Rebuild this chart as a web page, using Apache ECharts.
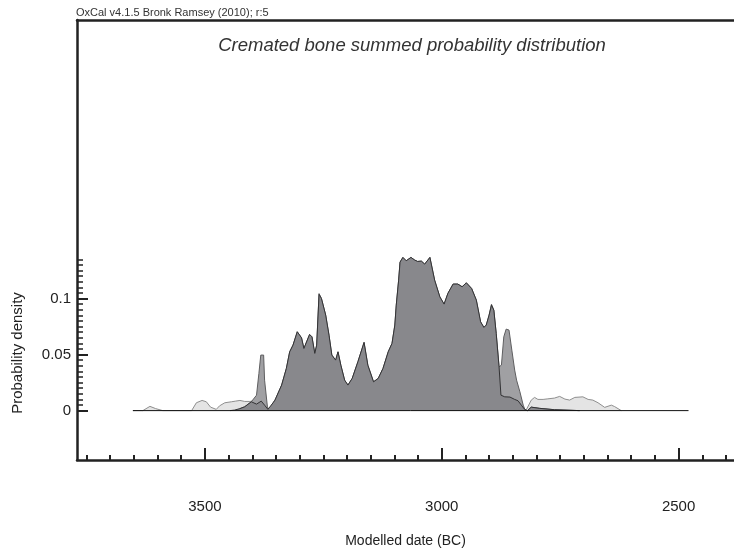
<!DOCTYPE html>
<html>
<head>
<meta charset="utf-8">
<script src="https://cdn.jsdelivr.net/npm/echarts@6/dist/echarts.min.js"></script>
<style>
  html, body { margin: 0; padding: 0; background: #ffffff; }
  #chart { width: 734px; height: 554px; }
</style>
</head>
<body>
<div id="chart"></div>
<script>
// Axis ticks (years BC, axis runs right-to-left in time)
const majorYears = [3500, 3000, 2500];
const minorYears = [3750, 3700, 3650, 3600, 3550, 3500, 3450, 3400, 3350, 3300,
  3250, 3200, 3150, 3100, 3050, 3000, 2950, 2900, 2850, 2800,
  2750, 2700, 2650, 2600, 2550, 2500, 2450, 2400];
const majorDensity = [0, 0.05, 0.1];
const minorDensity = [0, 0.005, 0.01, 0.015, 0.02, 0.025, 0.03, 0.035, 0.04, 0.045,
  0.05, 0.055, 0.06, 0.065, 0.07, 0.075, 0.08, 0.085, 0.09, 0.095,
  0.1, 0.105, 0.11, 0.115, 0.12, 0.125, 0.13, 0.135];

// Unmodelled (prior) sum, outer tails
const priorEarlyYears = [3652, 3631, 3616, 3604, 3589, 3528, 3518, 3506, 3497, 3488,
  3476, 3469, 3458, 3444, 3435, 3426, 3416, 3405, 3395, 3384, 3371, 3365];
const priorEarlyDensity = [0, 0, 0.0038, 0.0018, 0, 0, 0.0070, 0.0091, 0.0079, 0.0031,
  0.0011, 0.0043, 0.0070, 0.0079, 0.0085, 0.0091, 0.0082, 0.0082, 0.0089, 0.0085, 0.0060, 0];
const priorLateYears = [2833, 2821, 2811, 2804, 2797, 2786, 2776, 2762, 2751, 2740,
  2730, 2719, 2702, 2691, 2681, 2670, 2656, 2642, 2635, 2621];
const priorLateDensity = [0, 0.0011, 0.0094, 0.0118, 0.0100, 0.0100, 0.0105, 0.0112, 0.0127, 0.0103,
  0.0094, 0.0118, 0.0123, 0.0100, 0.0094, 0.0070, 0.0029, 0.0049, 0.0036, 0];

// Unmodelled sum within the main range
const midYears = [3426, 3416, 3402, 3391, 3386, 3382, 3376, 3374, 3368, 3365,
  3356, 3352, 3338, 3328, 3321, 3314, 3305, 3296, 3291, 3279,
  3274, 3268, 3264, 3259, 3254, 3245, 3238, 3232, 3224, 3219,
  3213, 3205, 3198, 3189, 3177, 3164, 3156, 3144, 3134, 3124,
  3113, 3105, 3099, 3096, 3091, 3088, 3082, 3075, 3065, 3057,
  3051, 3043, 3036, 3025, 3015, 3004, 2995, 2987, 2976, 2966,
  2957, 2948, 2937, 2927, 2918, 2911, 2906, 2900, 2895, 2890,
  2885, 2879, 2874, 2869, 2864, 2858, 2852, 2846, 2842, 2835,
  2828, 2824, 2819, 2811, 2793, 2762, 2709];
const midDensity = [0.0018, 0.0034, 0.0079, 0.0138, 0.0332, 0.0496, 0.0496, 0.0272, 0.0034, 0.0005,
  0.0070, 0.0094, 0.0228, 0.0377, 0.0525, 0.0585, 0.0704, 0.0650, 0.0555, 0.0680,
  0.0659, 0.0511, 0.0585, 0.1045, 0.1002, 0.0853, 0.0674, 0.0496, 0.0451, 0.0525,
  0.0406, 0.0272, 0.0228, 0.0288, 0.0436, 0.0609, 0.0406, 0.0257, 0.0288, 0.0377,
  0.0525, 0.0600, 0.0764, 0.0942, 0.1165, 0.1326, 0.1368, 0.1338, 0.1368, 0.1344,
  0.1332, 0.1335, 0.1308, 0.1368, 0.1165, 0.1016, 0.0951, 0.1047, 0.1130, 0.1130,
  0.1106, 0.1141, 0.1091, 0.0987, 0.0793, 0.0743, 0.0764, 0.0853, 0.0950, 0.0897,
  0.0689, 0.0391, 0.0406, 0.0659, 0.0728, 0.0719, 0.0540, 0.0362, 0.0272, 0.0168,
  0.0049, 0.0005, 0, 0.0031, 0.0020, 0.0008, 0];

// Modelled (posterior) sum
const modelYears = [3447, 3437, 3426, 3416, 3402, 3391, 3381, 3374, 3367, 3356,
  3352, 3338, 3328, 3321, 3314, 3305, 3296, 3291, 3279, 3274,
  3268, 3264, 3259, 3254, 3245, 3238, 3232, 3224, 3219, 3213,
  3205, 3198, 3189, 3177, 3164, 3156, 3144, 3134, 3124, 3113,
  3105, 3099, 3096, 3091, 3088, 3082, 3075, 3065, 3057, 3051,
  3043, 3036, 3025, 3015, 3004, 2995, 2987, 2976, 2966, 2957,
  2948, 2937, 2927, 2918, 2911, 2906, 2900, 2895, 2890, 2885,
  2879, 2875, 2867, 2856, 2846, 2839, 2832, 2825, 2819, 2811,
  2793, 2762, 2709];
const modelDensity = [0, 0.0005, 0.0018, 0.0034, 0.0079, 0.0058, 0.0085, 0.0049, 0.0011, 0.0070,
  0.0094, 0.0228, 0.0377, 0.0525, 0.0585, 0.0704, 0.0650, 0.0555, 0.0680, 0.0659,
  0.0511, 0.0585, 0.1038, 0.1002, 0.0853, 0.0674, 0.0496, 0.0451, 0.0525, 0.0406,
  0.0272, 0.0228, 0.0288, 0.0436, 0.0609, 0.0406, 0.0257, 0.0288, 0.0377, 0.0525,
  0.0600, 0.0764, 0.0942, 0.1165, 0.1326, 0.1368, 0.1338, 0.1368, 0.1344, 0.1332,
  0.1335, 0.1308, 0.1368, 0.1165, 0.1016, 0.0951, 0.1047, 0.1130, 0.1130, 0.1106,
  0.1141, 0.1091, 0.0987, 0.0793, 0.0743, 0.0764, 0.0853, 0.0942, 0.0897, 0.0689,
  0.0391, 0.0138, 0.0123, 0.0121, 0.0100, 0.0088, 0.0049, 0.0011, 0, 0.0031,
  0.0020, 0.0008, 0];

// Zero line under the distributions
const baselineYears = [3652, 2479];
const baselineDensity = [0, 0];

const zip = (xs, ys) => xs.map((x, i) => [x, ys[i]]);

const FONT = '"Liberation Sans", Arial, Helvetica, sans-serif';
const INK = '#222222';

const chart = echarts.init(document.getElementById('chart'), null, { renderer: 'canvas' });

const xBase = { type: 'value', inverse: true, min: 2383, max: 3770, splitLine: { show: false } };
const yBase = { type: 'value', min: -0.0441, max: 0.3488, splitLine: { show: false } };

chart.setOption({
  animation: false,
  backgroundColor: '#ffffff',
  textStyle: { fontFamily: FONT },
  title: [
    {
      text: 'OxCal v4.1.5 Bronk Ramsey (2010); r:5',
      left: 76, top: 7, padding: 0,
      textStyle: { fontFamily: FONT, fontSize: 11, fontWeight: 'normal', color: '#333333' }
    },
    {
      text: 'Cremated bone summed probability distribution',
      left: 412, top: 36, padding: 0, textAlign: 'center',
      textStyle: { fontFamily: FONT, fontSize: 18.5, fontStyle: 'italic', fontWeight: 'normal', color: '#333333' }
    }
  ],
  graphic: [
    {
      type: 'text', x: 18, y: 353, rotation: Math.PI / 2,
      style: { text: 'Probability density', font: '15px ' + FONT, fill: INK, align: 'center', verticalAlign: 'middle' }
    }
  ],
  grid: { left: 77, right: 0, top: 20, bottom: 94, containLabel: false },
  xAxis: [
    Object.assign({}, xBase, {
      position: 'bottom',
      name: 'Modelled date (BC)',
      nameLocation: 'middle',
      nameGap: 74,
      nameTextStyle: { fontFamily: FONT, fontSize: 14, color: INK, verticalAlign: 'top' },
      axisLine: { show: true, onZero: false, lineStyle: { color: INK, width: 2.5 } },
      axisTick: { show: true, inside: true, length: 12, customValues: majorYears, lineStyle: { color: INK, width: 2 } },
      axisLabel: {
        show: true, customValues: majorYears, margin: 39, fontSize: 15, color: INK, fontFamily: FONT,
        formatter: v => String(Math.round(v))
      }
    }),
    Object.assign({}, xBase, {
      position: 'bottom',
      axisLine: { show: false, onZero: false },
      axisTick: { show: true, inside: true, length: 5, customValues: minorYears, lineStyle: { color: INK, width: 2 } },
      axisLabel: { show: false }
    }),
    Object.assign({}, xBase, {
      position: 'top',
      axisLine: { show: true, onZero: false, lineStyle: { color: INK, width: 2.5 } },
      axisTick: { show: false },
      axisLabel: { show: false }
    })
  ],
  yAxis: [
    Object.assign({}, yBase, {
      position: 'left',
      axisLine: { show: true, onZero: false, lineStyle: { color: INK, width: 2.5 } },
      axisTick: { show: true, inside: true, length: 11, customValues: majorDensity, lineStyle: { color: INK, width: 2 } },
      axisLabel: {
        show: true, customValues: majorDensity, margin: 6, fontSize: 15, color: INK, fontFamily: FONT,
        formatter: v => String(+v.toFixed(3))
      }
    }),
    Object.assign({}, yBase, {
      position: 'left',
      axisLine: { show: false, onZero: false },
      axisTick: { show: true, inside: true, length: 6, customValues: minorDensity, lineStyle: { color: INK, width: 1.5 } },
      axisLabel: { show: false }
    })
  ],
  series: [
    {
      name: 'prior-early', type: 'line', xAxisIndex: 0, yAxisIndex: 0,
      data: zip(priorEarlyYears, priorEarlyDensity),
      symbol: 'none', smooth: false, z: 2,
      lineStyle: { color: '#8f8f8f', width: 1 },
      areaStyle: { color: '#e4e4e4', opacity: 1 }
    },
    {
      name: 'prior-late', type: 'line', xAxisIndex: 0, yAxisIndex: 0,
      data: zip(priorLateYears, priorLateDensity),
      symbol: 'none', smooth: false, z: 2,
      lineStyle: { color: '#8f8f8f', width: 1 },
      areaStyle: { color: '#e4e4e4', opacity: 1 }
    },
    {
      name: 'unmodelled', type: 'line', xAxisIndex: 0, yAxisIndex: 0,
      data: zip(midYears, midDensity),
      symbol: 'none', smooth: false, z: 3,
      lineStyle: { color: '#5e5e60', width: 1 },
      areaStyle: { color: '#a0a0a3', opacity: 1 }
    },
    {
      name: 'modelled', type: 'line', xAxisIndex: 0, yAxisIndex: 0,
      data: zip(modelYears, modelDensity),
      symbol: 'none', smooth: false, z: 4,
      lineStyle: { color: '#333335', width: 1 },
      areaStyle: { color: '#88888c', opacity: 1 }
    },
    {
      name: 'baseline', type: 'line', xAxisIndex: 0, yAxisIndex: 0,
      data: zip(baselineYears, baselineDensity),
      symbol: 'none', z: 5,
      lineStyle: { color: '#111111', width: 1 }
    }
  ]
});
</script>
</body>
</html>
